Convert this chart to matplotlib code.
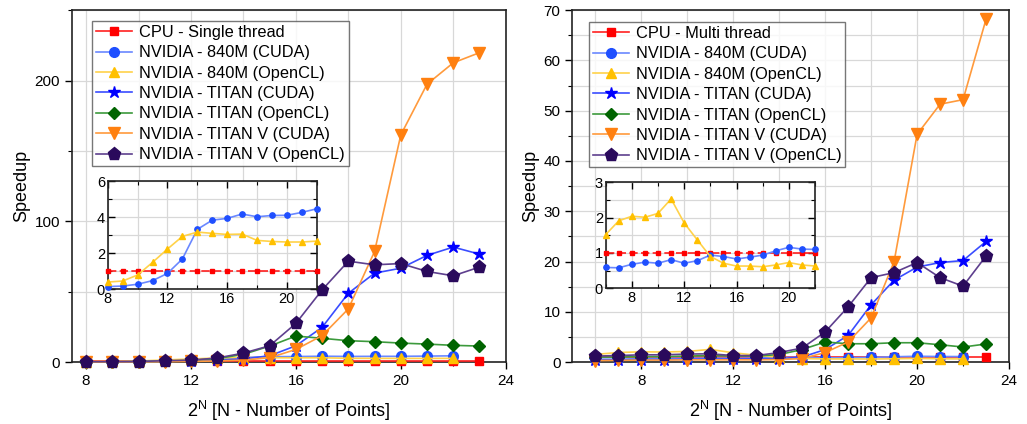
import matplotlib
matplotlib.use("Agg")
import matplotlib.pyplot as plt
from matplotlib.ticker import MultipleLocator

plt.rcParams['font.family'] = ['Liberation Sans', 'DejaVu Sans']

# ---------------- data ----------------
labels_left = ["CPU - Single thread", "NVIDIA - 840M (CUDA)", "NVIDIA - 840M (OpenCL)",
               "NVIDIA - TITAN (CUDA)", "NVIDIA - TITAN (OpenCL)",
               "NVIDIA - TITAN V (CUDA)", "NVIDIA - TITAN V (OpenCL)"]
labels_right = ["CPU - Multi thread"] + labels_left[1:]

# Left panel (single thread baseline), N = 8..23
N_left = list(range(8, 24))
N_left_840 = list(range(8, 23))
L_cpu = [1.0] * 16
L_840_cuda = [0.15, 0.18, 0.28, 0.48, 0.88, 1.68, 3.32, 3.83, 3.93, 4.17, 4.02, 4.09, 4.10, 4.26, 4.46]
L_840_ocl = [0.40, 0.46, 0.79, 1.49, 2.23, 2.93, 3.17, 3.10, 3.04, 3.06, 2.71, 2.65, 2.62, 2.62, 2.67]
L_titan_cuda = [0.1, 0.2, 0.3, 0.5, 0.9, 1.4, 2.3, 4.5, 11.6, 24.7, 48.9, 63.2, 66.7, 75.8, 81.7, 76.7]
L_titan_ocl = [0.1, 0.2, 0.3, 0.6, 1.2, 2.5, 5.5, 11.4, 18.5, 16.9, 15.2, 14.5, 13.5, 12.8, 11.9, 11.4]
L_titanv_cuda = [0.05, 0.1, 0.15, 0.3, 0.5, 0.8, 1.4, 3.1, 9.0, 18.8, 37.8, 78.6, 161.4, 197.4, 212.6, 219.8]
L_titanv_ocl = [0.3, 0.3, 0.4, 1.0, 1.4, 2.9, 6.4, 11.6, 27.5, 51.3, 71.7, 69.1, 70.0, 64.4, 61.3, 67.5]

# Right panel (multi thread baseline), N = 6..23
N_right = list(range(6, 24))
N_right_840 = list(range(6, 23))
R_cpu = [1.0] * 18
R_840_cuda = [0.59, 0.58, 0.68, 0.74, 0.71, 0.81, 0.71, 0.78, 0.94, 0.90, 0.83, 0.88, 0.94, 1.06, 1.16, 1.11, 1.10]
R_840_ocl = [1.52, 1.91, 2.04, 2.01, 2.12, 2.53, 1.85, 1.37, 0.90, 0.71, 0.63, 0.63, 0.61, 0.66, 0.73, 0.66, 0.63]
R_titan_cuda = [0.4, 0.45, 0.5, 0.5, 0.55, 0.6, 0.6, 0.65, 0.7, 1.0, 2.5, 5.3, 11.4, 16.3, 18.9, 19.8, 20.2, 24.0]
R_titan_ocl = [1.0, 1.0, 1.1, 1.1, 1.2, 1.3, 1.2, 1.2, 1.5, 2.5, 4.0, 3.65, 3.65, 3.85, 3.85, 3.45, 3.0, 3.6]
R_titanv_cuda = [0.3, 0.35, 0.4, 0.4, 0.45, 0.45, 0.45, 0.45, 0.5, 0.7, 1.9, 4.0, 8.8, 20.0, 45.3, 51.3, 52.2, 68.2]
R_titanv_ocl = [1.2, 1.3, 1.45, 1.45, 1.6, 1.65, 1.3, 1.3, 1.9, 2.8, 6.0, 11.0, 16.8, 17.8, 19.8, 16.8, 15.1, 21.1]

# ---------------- styles ----------------
styles = [
    dict(color='#FF2020', mfc='#FF0000', mec='#FF0000', marker='s', ms=6),
    dict(color='#6A88FF', mfc='#1F4FFF', mec='#1F4FFF', marker='o', ms=7),
    dict(color='#FFD24A', mfc='#FFC000', mec='#FFC000', marker='^', ms=7),
    dict(color='#3A4DFF', mfc='#0000FF', mec='#0000FF', marker='*', ms=9),
    dict(color='#3C9A3C', mfc='#006400', mec='#006400', marker='D', ms=6),
    dict(color='#FF9A3C', mfc='#FF8010', mec='#FF8010', marker='v', ms=8),
    dict(color='#5E3F8E', mfc='#2A0A5C', mec='#2A0A5C', marker='p', ms=9.5),
]

fig = plt.figure(figsize=(10.27, 4.24), dpi=100)
axL = fig.add_axes([0.0698, 0.146, 0.4226, 0.830])
axR = fig.add_axes([0.5573, 0.146, 0.4252, 0.830])

def style_axes(ax, fs=11, grid=True):
    for s in ax.spines.values():
        s.set_linewidth(1.2)
        s.set_color('#222222')
    ax.tick_params(which='both', direction='out', labelsize=fs, top=False, right=False)
    ax.tick_params(which='major', length=5, width=1.0)
    ax.tick_params(which='minor', length=3, width=0.8)
    if grid:
        ax.grid(True, which='both', color='#d8d8d8', linewidth=0.9)
        ax.set_axisbelow(True)

def plot_series(ax, xs_list, ys_list, labels, lw=1.2, scale=1.0):
    for xs, ys, lab, st in zip(xs_list, ys_list, labels, styles):
        ax.plot(xs, ys, label=lab, color=st['color'], marker=st['marker'],
                markersize=st['ms'] * scale, markerfacecolor=st['mfc'],
                markeredgecolor=st['mec'], linewidth=lw, clip_on=False, zorder=3)

leg_kw = dict(loc='upper left', fontsize=11.8, frameon=True, fancybox=False,
              edgecolor='#555555', borderpad=0.25, labelspacing=0.33,
              handlelength=2.2, handletextpad=0.4, borderaxespad=0)

# ---------- left ----------
plot_series(axL, [N_left, N_left_840, N_left_840, N_left, N_left, N_left, N_left],
            [L_cpu, L_840_cuda, L_840_ocl, L_titan_cuda, L_titan_ocl, L_titanv_cuda, L_titanv_ocl],
            labels_left)
axL.set_xlim(7.45, 24)
axL.set_ylim(0, 250)
axL.xaxis.set_major_locator(MultipleLocator(4))
axL.xaxis.set_minor_locator(MultipleLocator(2))
axL.yaxis.set_major_locator(MultipleLocator(100))
axL.yaxis.set_minor_locator(MultipleLocator(50))
style_axes(axL)
axL.set_ylabel("Speedup", fontsize=13, labelpad=3)
axL.set_xlabel(r"2$^{\mathregular{N}}$ [N - Number of Points]", fontsize=13, labelpad=8)
legL = axL.legend(bbox_to_anchor=(0.047, 0.97), **leg_kw)
legL.get_frame().set_linewidth(1.0)

insL = fig.add_axes([0.1049, 0.3177, 0.2035, 0.2554])
plot_series(insL, [N_left_840, N_left_840, N_left_840],
            [L_cpu[:15], L_840_cuda, L_840_ocl], labels_left[:3], lw=1.2, scale=0.55)
insL.set_xlim(8, 22)
insL.set_ylim(0, 6)
insL.xaxis.set_major_locator(MultipleLocator(4))
insL.xaxis.set_minor_locator(MultipleLocator(2))
insL.yaxis.set_major_locator(MultipleLocator(2))
insL.yaxis.set_minor_locator(MultipleLocator(1))
style_axes(insL, fs=10.5)
insL.tick_params(which='both', direction='in', right=True, top=True, pad=2)
insL.patch.set_facecolor('white')
insL.lines[0].set_linestyle((0, (5, 2)))

# ---------- right ----------
plot_series(axR, [N_right, N_right_840, N_right_840, N_right, N_right, N_right, N_right],
            [R_cpu, R_840_cuda, R_840_ocl, R_titan_cuda, R_titan_ocl, R_titanv_cuda, R_titanv_ocl],
            labels_right)
axR.set_xlim(5, 24)
axR.set_ylim(0, 70)
axR.xaxis.set_major_locator(MultipleLocator(4))
axR.xaxis.set_minor_locator(MultipleLocator(2))
axR.yaxis.set_major_locator(MultipleLocator(10))
axR.yaxis.set_minor_locator(MultipleLocator(5))
style_axes(axR)
axR.set_ylabel("Speedup", fontsize=13, labelpad=3)
axR.set_xlabel(r"2$^{\mathregular{N}}$ [N - Number of Points]", fontsize=13, labelpad=8)
legR = axR.legend(bbox_to_anchor=(0.038, 0.967), **leg_kw)
legR.get_frame().set_linewidth(1.0)

insR = fig.add_axes([605.7 / 1027, (424 - 288.3) / 424, 209.3 / 1027, 106 / 424])
plot_series(insR, [N_right_840, N_right_840, N_right_840],
            [R_cpu[:17], R_840_cuda, R_840_ocl], labels_right[:3], lw=1.2, scale=0.55)
insR.set_xlim(6, 22)
insR.set_ylim(0, 3)
insR.xaxis.set_major_locator(MultipleLocator(4))
insR.xaxis.set_minor_locator(MultipleLocator(2))
insR.yaxis.set_major_locator(MultipleLocator(1))
insR.yaxis.set_minor_locator(MultipleLocator(0.5))
style_axes(insR, fs=10.5)
insR.tick_params(which='both', direction='in', right=True, top=True, pad=2)
insR.patch.set_facecolor('white')
insR.lines[0].set_linestyle((0, (5, 2)))
insR.set_xticks([8, 12, 16, 20])

fig.savefig("out.png", dpi=100)
